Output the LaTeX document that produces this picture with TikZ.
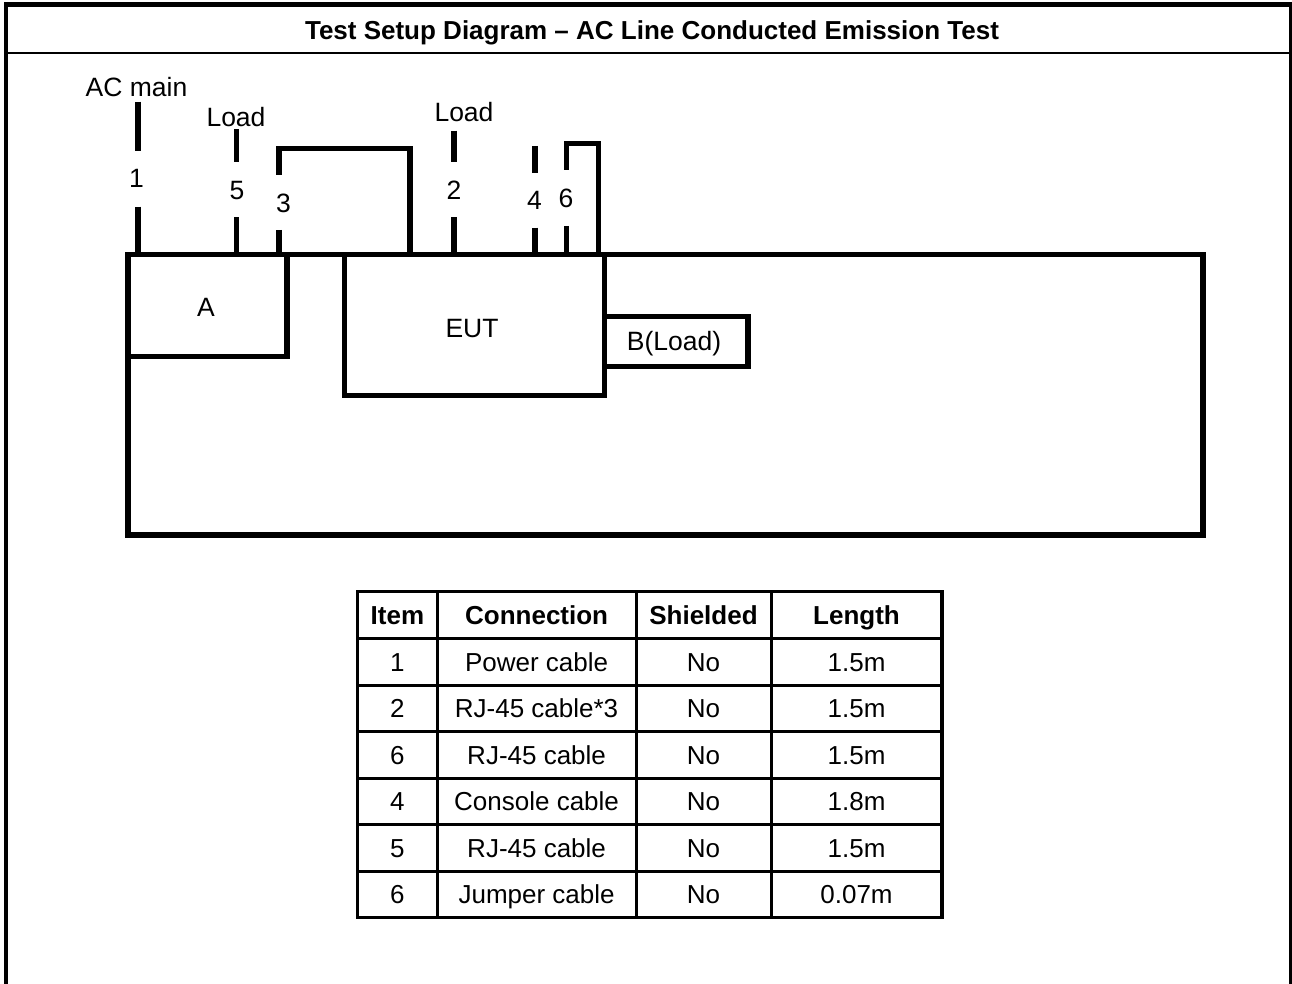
\documentclass[tikz,border=0pt]{standalone}
\usepackage{fontspec}
\setmainfont{Liberation Sans}
\begin{document}
\begin{tikzpicture}[x=1pt,y=-1pt,
  wire/.style={line width=5.5pt},
  lbl/.style={font=\fontsize{26.5}{30}\selectfont, inner sep=0pt, anchor=base},
  cell/.style={font=\fontsize{26}{30}\selectfont, inner sep=0pt, text height=18.6pt, text depth=0pt, anchor=center},
  hcell/.style={cell, font=\fontsize{26}{30}\selectfont\bfseries},
  tline/.style={line width=3pt},
  tborder/.style={line width=3.5pt}]
\useasboundingbox (0,0) rectangle (1292,984);
% page frame
\draw[line width=5pt] (4,4.5) -- (1291.7,4.5);
\draw[line width=4pt] (6,2) -- (6,984);
\draw[line width=2.5pt] (1290.5,2) -- (1290.5,984);
\draw[line width=2pt] (6,52.7) -- (1290.5,52.7);
\node[hcell] (title) at (652,30) {Test Setup Diagram – AC Line Conducted Emission Test};

% table/ground outline and equipment
\draw[wire] (128,254.5) rectangle (1203,535);
\draw[wire] (128,254.5) rectangle (287,356.5);
\draw[wire] (344.5,254.5) rectangle (604.5,395.5);
\draw[wire] (604.5,316.5) rectangle (748,366.5);
\node[lbl] (A) at (206,316) {A};
\node[lbl] (EUT) at (472,337) {EUT};
\node[lbl] (B) at (674,350) {B(Load)};

% cable 1
\draw[wire] (138,101.7) -- (138,150.7);
\draw[wire] (138,206.7) -- (138,254.5);
\node[lbl] (acmain) at (136.5,97) {AC main};
\node[lbl] (n1) at (136.5,188) {1};
% cable 5
\draw[wire] (236.7,129.3) -- (236.7,162);
\draw[wire] (236.7,217.3) -- (236.7,254.5);
\node[lbl] (load5) at (236,127) {Load};
\node[lbl] (n5) at (237,200) {5};
% cable 3
\draw[wire] (279,175) -- (279,148.3) -- (410,148.3) -- (410,254.5);
\draw[wire] (279,230) -- (279,254.5);
\node[lbl] (n3) at (283.5,213) {3};
% cable 2
\draw[wire] (454,130.7) -- (454,161.7);
\draw[wire] (454,217.3) -- (454,254.5);
\node[lbl] (load2) at (464,122) {Load};
\node[lbl] (n2) at (454,200) {2};
% cable 4
\draw[wire] (535,146) -- (535,172.7);
\draw[wire] (535,227.7) -- (535,254.5);
\node[lbl] (n4) at (534.5,210) {4};
% cable 6
\draw[wire] (566.7,170) -- (566.7,143.3) -- (598.3,143.3) -- (598.3,254.5);
\draw[wire] (566.7,226) -- (566.7,254.5);
\node[lbl] (n6) at (566,208) {6};

% cable table
\foreach \yy in {638.5,685,731.5,778,824.5,871}
  \draw[tline] (357.5,\yy) -- (942,\yy);
\foreach \xx in {437.2,636,771}
  \draw[tline] (\xx,591.5) -- (\xx,917.5);
\draw[tborder] (357.5,591.5) rectangle (942,917.5);
\node[hcell] (h1) at (397.4,615) {Item};
\node[hcell] (h2) at (536.6,615) {Connection};
\node[hcell] (h3) at (703.5,615) {Shielded};
\node[hcell] (h4) at (856.5,615) {Length};
\foreach [count=\i] \a/\b/\c/\d in {1/Power cable/No/1.5m, 2/RJ-45 cable*3/No/1.5m, 6/RJ-45 cable/No/1.5m, 4/Console cable/No/1.8m, 5/RJ-45 cable/No/1.5m, 6/Jumper cable/No/0.07m} {
  \pgfmathsetmacro\yy{638.5+46.5*(\i-0.5)}
  \node[cell] (r\i c1) at (397.4,\yy) {\a};
  \node[cell] (r\i c2) at (536.6,\yy) {\b};
  \node[cell] (r\i c3) at (703.5,\yy) {\c};
  \node[cell] (r\i c4) at (856.5,\yy) {\d};
}
\end{tikzpicture}
\end{document}
